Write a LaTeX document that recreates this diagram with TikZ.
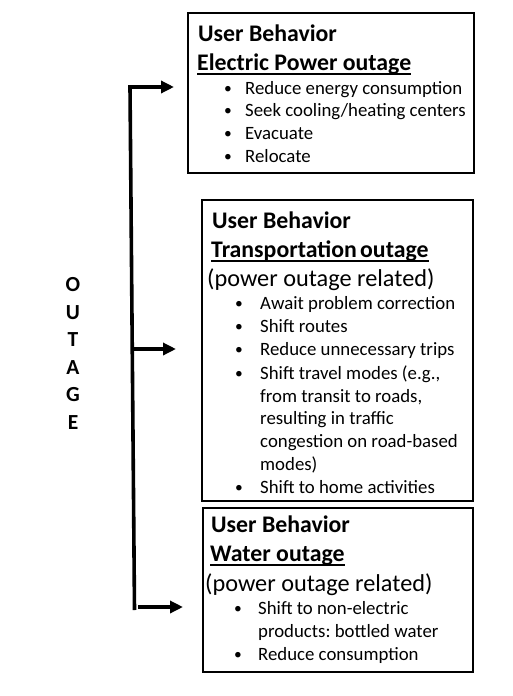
\documentclass[tikz,border=0pt]{standalone}
\usepackage{fontspec}
\setmainfont{Carlito}
\usetikzlibrary{arrows.meta}
\frenchspacing
\begin{document}
\begin{tikzpicture}[x=1pt,y=-1pt,
  box/.style={draw=black, line width=1.3pt, inner sep=0pt},
  tx/.style={anchor=base west, inner sep=0pt},
  hd/.style={tx, font=\fontsize{23.8}{28}\selectfont\bfseries},
  sub/.style={tx, font=\fontsize{24.3}{28}\selectfont},
  bl/.style={tx, font=\fontsize{18.8}{23}\selectfont},
  dot/.style={tx, font=\fontsize{15.5}{18}\selectfont},
  ul/.style={line width=1.4pt},
  conn/.style={line width=3.6pt, -{Triangle[length=13pt,width=12pt]}},
  letter/.style={anchor=base, inner sep=0pt, font=\fontsize{21.5}{25}\selectfont\bfseries}]
\useasboundingbox (0,0) rectangle (512,696);

% boxes
\node[box, minimum width=286pt, minimum height=160pt] (b1) at (331,93) {};
\node[box, minimum width=271pt, minimum height=301pt] (b2) at (337.5,350.5) {};
\node[box, minimum width=270pt, minimum height=164pt] (b3) at (338,590) {};

% box 1 text
\node[hd] (h1) at (198,41) {User Behavior};
\node[hd] (t1) at (197,70) {Electric Power outage};
\draw[ul] ([yshift=-4pt]t1.base west) -- ([yshift=-4pt]t1.base east);
\foreach \y/\t [count=\i] in {94/{Reduce energy consumption},116.5/{Seek cooling/heating centers},139/{Evacuate},162/{Relocate}}{
  \node[dot] (d1\i) at (224,{\y-1}) {•};
  \node[bl] (e1\i) at (245,\y) {\t};
}

% box 2 text
\node[hd] (h2) at (212,228) {User Behavior};
\node[hd] (t2) at (211,257) {Transportation\hspace{-2pt} outage};
\draw[ul] ([yshift=-4pt]t2.base west) -- ([yshift=-4pt]t2.base east);
\node[sub] (p2) at (207,286) {(power outage related)};
\foreach \y/\t [count=\i] in {309/{Await problem correction},332/{Shift routes},355.5/{Reduce unnecessary trips},379/{Shift travel modes (e.g.,},493/{Shift to home activities}}{
  \node[dot] (d2\i) at (235,{\y-1}) {•};
  \node[bl] (e2\i) at (260,\y) {\t};
}
\node[bl] (f21) at (260,402) {from transit to roads,};
\node[bl] (f22) at (260,424.5) {resulting in traffic};
\node[bl] (f23) at (260,447.5) {congestion on road-based};
\node[bl] (f24) at (260,470) {modes)};

% box 3 text
\node[hd] (h3) at (211,532) {User Behavior};
\node[hd] (t3) at (210,561) {Water outage};
\draw[ul] ([yshift=-4pt]t3.base west) -- ([yshift=-4pt]t3.base east);
\node[sub] (p3) at (205,591) {(power outage related)};
\node[dot] (d31) at (234,613) {•};
\node[bl] (e31) at (258,614) {Shift to non-electric};
\node[bl] (f31) at (258,637) {products: bottled water};
\node[dot] (d32) at (234,659) {•};
\node[bl] (e32) at (258,660) {Reduce consumption};

% OUTAGE label
\foreach \l [count=\i] in {O,U,T,A,G,E}{
  \node[letter] (L\i) at (73,{291.5+(\i-1)*27.6}) {\l};
}

% connectors
\coordinate (vb) at (134.5,610);
\coordinate (vt) at (130,87);
\coordinate (a1) at (174,87);
\coordinate (m) at (132.3,349);
\coordinate (a2) at (176,349);
\coordinate (s3) at (138,607);
\coordinate (a3) at (183,607);
\draw[conn, line join=miter] (vb) -- (vt) -- (a1);
\draw[conn] (m) -- (a2);
\draw[conn] (s3) -- (a3);
\end{tikzpicture}
\end{document}
